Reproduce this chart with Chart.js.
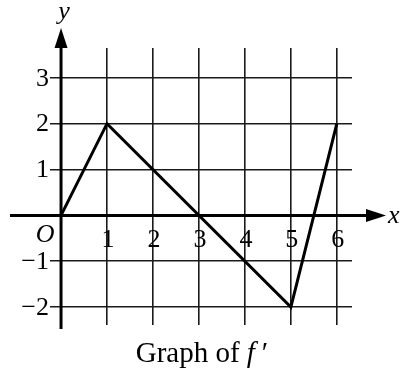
<!DOCTYPE html>
<html>
<head>
<meta charset="utf-8">
<script src="https://cdn.jsdelivr.net/npm/chart.js@4"></script>
<style>
  html, body { margin: 0; padding: 0; background: #fff; }
  canvas { display: block; }
</style>
</head>
<body>
<canvas id="graph" width="401" height="374"></canvas>
<script>
// graph of f' (piecewise linear)
const xValues = [0, 1, 5, 6];
const fPrimeValues = [0, 2, -2, 2];
const xTicks = [1, 2, 3, 4, 5, 6];
const yTicks = [-2, -1, 1, 2, 3];
const caption = ['Graph of ', 'f', '\u2032'];

const SERIF = '"Liberation Serif", "DejaVu Serif", serif';

const axesPlugin = {
    id: 'axes',
    beforeDatasetsDraw(chart) {
        const ctx = chart.ctx;
        const xs = chart.scales.x, ys = chart.scales.y;
        const x0 = xs.getPixelForValue(0);
        const y0 = ys.getPixelForValue(0);
        ctx.save();
        ctx.strokeStyle = '#000';
        ctx.fillStyle = '#000';
        ctx.lineWidth = 3;
        // x axis
        ctx.beginPath();
        ctx.moveTo(10, y0);
        ctx.lineTo(372, y0);
        ctx.stroke();
        ctx.beginPath();
        ctx.moveTo(386, y0);
        ctx.lineTo(366, y0 - 6.5);
        ctx.lineTo(366, y0 + 6.5);
        ctx.closePath();
        ctx.fill();
        // y axis
        ctx.beginPath();
        ctx.moveTo(x0, 329);
        ctx.lineTo(x0, 42);
        ctx.stroke();
        ctx.beginPath();
        ctx.moveTo(x0, 28);
        ctx.lineTo(x0 - 6.5, 48);
        ctx.lineTo(x0 + 6.5, 48);
        ctx.closePath();
        ctx.fill();
        ctx.restore();
    },
    afterDraw(chart) {
        const ctx = chart.ctx;
        const xs = chart.scales.x, ys = chart.scales.y;
        const x0 = xs.getPixelForValue(0);
        const y0 = ys.getPixelForValue(0);
        ctx.save();
        ctx.fillStyle = '#000';
        ctx.font = '26px ' + SERIF;
        ctx.textAlign = 'center';
        ctx.textBaseline = 'middle';
        xTicks.forEach(v => {
            ctx.fillText(String(v), xs.getPixelForValue(v) + 1, y0 + 25);
        });
        ctx.textAlign = 'right';
        yTicks.forEach(v => {
            const label = v < 0 ? '\u2212' + Math.abs(v) : String(v);
            ctx.fillText(label, x0 - 12, ys.getPixelForValue(v) + 1);
        });
        ctx.font = 'italic 26px ' + SERIF;
        ctx.textAlign = 'center';
        ctx.fillText('O', x0 - 16, y0 + 20);
        ctx.fillText('y', x0 + 3, 12);
        ctx.textAlign = 'left';
        ctx.fillText('x', 388, y0 + 1);

        // caption
        ctx.textBaseline = 'alphabetic';
        ctx.font = '29px ' + SERIF;
        const w1 = ctx.measureText(caption[0]).width;
        ctx.font = 'italic 29px ' + SERIF;
        const w2 = ctx.measureText(caption[1]).width;
        const w3 = ctx.measureText(caption[2]).width;
        const gap = 5;
        const start = 201 - (w1 + w2 + gap + w3) / 2;
        ctx.font = '29px ' + SERIF;
        ctx.fillText(caption[0], start, 362);
        ctx.font = 'italic 29px ' + SERIF;
        ctx.fillText(caption[1], start + w1, 362);
        ctx.fillText(caption[2], start + w1 + w2 + gap, 362);
        ctx.restore();
    }
};

const gridColor = c => (c.tick && c.tick.value === 0) ? 'rgba(0,0,0,0)' : '#1a1a1a';

new Chart(document.getElementById('graph'), {
    type: 'scatter',
    data: {
        datasets: [{
            data: xValues.map((x, i) => ({ x: x, y: fPrimeValues[i] })),
            showLine: true,
            borderColor: '#000',
            borderWidth: 3,
            pointRadius: 0,
            tension: 0
        }]
    },
    options: {
        responsive: false,
        animation: false,
        layout: { padding: { left: 50, top: 48, right: 49, bottom: 49 } },
        plugins: {
            legend: { display: false },
            tooltip: { enabled: false }
        },
        scales: {
            x: {
                type: 'linear',
                min: -0.24,
                max: 6.33,
                afterBuildTicks: s => { s.ticks = [0].concat(xTicks).map(v => ({ value: v })); },
                ticks: { display: false },
                grid: { color: gridColor, lineWidth: 1.6, drawTicks: false },
                border: { display: false }
            },
            y: {
                type: 'linear',
                min: -2.39,
                max: 3.65,
                afterBuildTicks: s => { s.ticks = [0].concat(yTicks).map(v => ({ value: v })); },
                ticks: { display: false },
                grid: { color: gridColor, lineWidth: 1.6, drawTicks: false },
                border: { display: false }
            }
        }
    },
    plugins: [axesPlugin]
});
</script>
</body>
</html>
